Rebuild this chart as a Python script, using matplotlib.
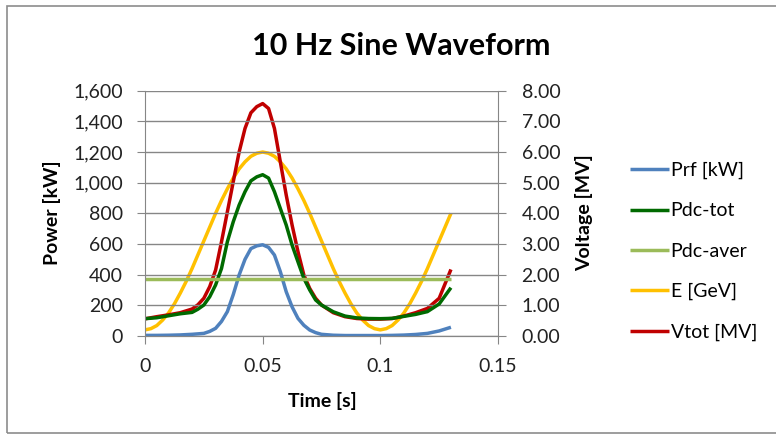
import matplotlib.pyplot as plt
from matplotlib.patches import Rectangle
from matplotlib.ticker import FuncFormatter, MultipleLocator

plt.rcParams['font.family'] = ['Lato', 'DejaVu Sans']

# time points [s]
t = [0, 0.005, 0.01, 0.015, 0.02, 0.0225, 0.025, 0.0275, 0.03, 0.0325,
     0.035, 0.0375, 0.04, 0.0425, 0.045, 0.0475, 0.05, 0.0525, 0.055,
     0.0575, 0.06, 0.0625, 0.065, 0.0675, 0.07, 0.0725, 0.075, 0.08,
     0.085, 0.09, 0.095, 0.1, 0.105, 0.11, 0.115, 0.12, 0.125, 0.13]

# left axis [kW]
prf = [4, 4, 5, 7, 11, 14, 17, 30, 50, 95, 159, 270, 398, 500, 570, 588,
       595, 578, 528, 420, 289, 190, 115, 70, 39, 22, 11, 5, 3, 3, 3, 3,
       4, 6, 10, 17, 33, 57]
pdc_tot = [113, 119, 132, 145, 154, 175, 202, 256, 333, 440, 615, 745,
           854, 941, 1012, 1038, 1052, 1030, 941, 832, 724, 593, 484, 376,
           300, 235, 202, 158, 130, 118, 114, 113, 115, 128, 141, 159, 209,
           315]
pdc_aver = [375] * len(t)

# right axis: total voltage [MV]
vtot = [0.56, 0.63, 0.69, 0.76, 0.88, 1.02, 1.23, 1.61, 2.15, 3.07, 4.05,
        5.03, 6.00, 6.77, 7.28, 7.48, 7.58, 7.42, 6.77, 5.68, 4.60, 3.62,
        2.75, 1.99, 1.55, 1.23, 1.01, 0.76, 0.63, 0.57, 0.55, 0.55, 0.57,
        0.65, 0.76, 0.90, 1.23, 2.17]

# right axis: beam energy [GeV], read at finer time steps
t_e = [i * 0.0025 for i in range(53)]
e_gev = [0.20, 0.24, 0.34, 0.52, 0.75, 1.05, 1.40, 1.78, 2.20, 2.65, 3.10,
         3.55, 4.00, 4.42, 4.80, 5.15, 5.45, 5.68, 5.86, 5.96, 6.00, 5.96,
         5.86, 5.68, 5.45, 5.15, 4.80, 4.42, 4.00, 3.55, 3.10, 2.65, 2.20,
         1.78, 1.40, 1.05, 0.75, 0.52, 0.34, 0.24, 0.20, 0.24, 0.34, 0.52,
         0.75, 1.05, 1.40, 1.78, 2.20, 2.65, 3.10, 3.55, 4.00]

grey = '#868686'
fig = plt.figure(figsize=(7.76, 4.34), dpi=100)
fig.patches.append(Rectangle((7 / 776, 1 - 433 / 434), 1.0, 427 / 434,
                             transform=fig.transFigure, fill=False,
                             edgecolor='#8c8c8c', linewidth=1.2))

ax = fig.add_axes([145 / 776, 1 - 336 / 434, 353 / 776, 245.3 / 434])
ax2 = ax.twinx()

kw = dict(lw=2.5, solid_joinstyle='round', solid_capstyle='butt')
l1, = ax.plot(t, prf, color='#4F81BD', label='Prf [kW]', **kw)
l2, = ax.plot(t, pdc_tot, color='#006A00', label='Pdc-tot', **kw)
l3, = ax.plot(t, pdc_aver, color='#9BBB59', label='Pdc-aver', **kw)
l4, = ax2.plot(t_e, e_gev, color='#FFC000', label='E [GeV]', **kw)
l5, = ax2.plot(t, vtot, color='#C00000', label='Vtot [MV]', **kw)
ax.set_zorder(ax2.get_zorder() + 1)
ax.patch.set_visible(False)

ax.set_xlim(0, 0.15)
ax.set_ylim(0, 1600)
ax2.set_ylim(0, 8)
ax.xaxis.set_major_locator(MultipleLocator(0.05))
ax.yaxis.set_major_locator(MultipleLocator(200))
ax2.yaxis.set_major_locator(MultipleLocator(1))
ax.xaxis.set_major_formatter(FuncFormatter(lambda v, p: '0' if v == 0 else f'{v:g}'))
ax.yaxis.set_major_formatter(FuncFormatter(lambda v, p: f'{v:,.0f}'))
ax2.yaxis.set_major_formatter(FuncFormatter(lambda v, p: f'{v:.2f}'))

ax.grid(axis='y', color=grey, lw=1.0)
ax.set_axisbelow(True)
for a in (ax, ax2):
    for s in a.spines.values():
        s.set_color(grey)
    a.spines['top'].set_visible(False)
ax.spines['right'].set_visible(False)
ax2.spines['left'].set_visible(False)
ax.tick_params(axis='y', length=6, color=grey, pad=10, labelsize=14, labelcolor='#222222')
ax.tick_params(axis='x', length=6, color=grey, pad=10, labelsize=14, labelcolor='#222222')
ax2.tick_params(axis='y', length=6, color=grey, pad=11, labelsize=14, labelcolor='#222222')

fig.text(401 / 776, 1 - 46 / 434, '10 Hz Sine Waveform', ha='center', va='center',
         fontsize=22, fontweight='bold')
fig.text(52 / 776, 1 - 213 / 434, 'Power [kW]', rotation=90, ha='center', va='center',
         fontsize=14, fontweight='bold')
fig.text(584 / 776, 1 - 213 / 434, 'Voltage [MV]', rotation=90, ha='center', va='center',
         fontsize=14, fontweight='bold')
fig.text(322 / 776, 1 - 401 / 434, 'Time [s]', ha='center', va='center',
         fontsize=14, fontweight='bold')

fig.legend(handles=[l1, l2, l3, l4, l5], loc='upper left',
           bbox_to_anchor=(622 / 776, 1 - 154 / 434), frameon=False,
           fontsize=14, handlelength=2.0, handletextpad=0.1,
           labelspacing=1.2, borderaxespad=0)

fig.savefig('out.png', dpi=100)
